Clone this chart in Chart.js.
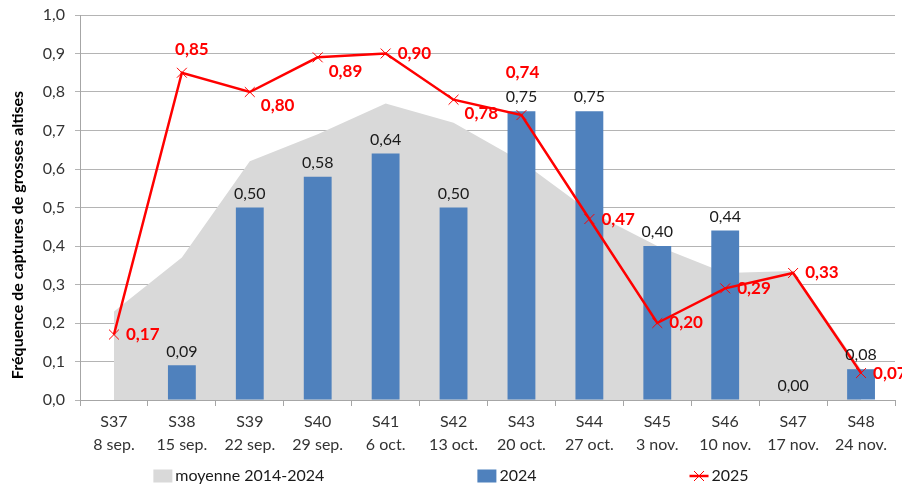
<!DOCTYPE html>
<html><head><meta charset="utf-8">
<script src="https://cdn.jsdelivr.net/npm/chart.js@4.4.1/dist/chart.umd.min.js"></script>
<style>html,body{margin:0;padding:0;background:#fff}#wrap{width:902px;height:489px;position:relative}</style>
</head><body><div id="wrap"><canvas id="c" width="902" height="489"></canvas></div>
<script>
const weeks = ['S37','S38','S39','S40','S41','S42','S43','S44','S45','S46','S47','S48'];
const dates = ['8 sep.','15 sep.','22 sep.','29 sep.','6 oct.','13 oct.','20 oct.','27 oct.','3 nov.','10 nov.','17 nov.','24 nov.'];
const moyenne = [0.23,0.37,0.62,0.69,0.77,0.72,0.62,0.49,0.40,0.33,0.335,0.08];
const values2024 = [null,0.09,0.50,0.58,0.64,0.50,0.75,0.75,0.40,0.44,0.00,0.08];
const values2025 = [0.17,0.85,0.80,0.89,0.90,0.78,0.74,0.47,0.20,0.29,0.33,0.07];
const seriesNames = ['moyenne 2014-2024','2024','2025'];
const yTitle = 'Fréquence de captures de grosses altises';
const labelPlacement2025 = ['right','above','belowRight','belowRight','right','belowRight','aboveHigh','right','right','right','right','right'];

const FONT = 'Lato, "Liberation Sans", sans-serif';
const fmt2 = v => v.toFixed(2).replace('.', ',');
const fmt1 = v => v.toFixed(1).replace('.', ',');

const labelsPlugin = {
  id: 'customLabels',
  afterDatasetsDraw(chart) {
    const c = chart.ctx;
    c.save();
    const barMeta = chart.getDatasetMeta(1);
    c.font = '16px ' + FONT;
    c.fillStyle = '#1a1a1a';
    c.textAlign = 'center';
    c.textBaseline = 'middle';
    barMeta.data.forEach((el, i) => {
      const v = values2024[i];
      if (v == null) return;
      c.fillText(fmt2(v), el.x, el.y - 14);
    });
    const lineMeta = chart.getDatasetMeta(2);
    c.font = 'bold 17px ' + FONT;
    c.fillStyle = '#ff0000';
    lineMeta.data.forEach((el, i) => {
      const v = values2025[i];
      const p = labelPlacement2025[i];
      let x = el.x, y = el.y;
      if (p === 'right') { c.textAlign = 'left'; x += 12; }
      else if (p === 'belowRight') { c.textAlign = 'left'; x += 11; y += 14; }
      else if (p === 'above') { c.textAlign = 'center'; x += 10; y -= 23; }
      else if (p === 'aboveHigh') { c.textAlign = 'center'; x += 1; y -= 43; }
      c.fillText(fmt2(v), x, y);
    });
    c.restore();
  },
  afterDraw(chart) {
    const c = chart.ctx;
    c.save();
    c.translate(18, 235);
    c.rotate(-Math.PI / 2);
    c.font = 'bold 16px ' + FONT;
    c.fillStyle = '#000';
    c.textAlign = 'center';
    c.textBaseline = 'middle';
    c.fillText(yTitle, 0, 0);
    c.restore();

    c.save();
    c.font = '16px ' + FONT;
    c.textBaseline = 'middle';
    c.textAlign = 'left';
    const boxW = 19, boxH = 13, gapBT = 3, gapItems = 153, ly = 476;
    const widths = seriesNames.map(n => boxW + gapBT + c.measureText(n).width);
    const total = widths.reduce((a, b) => a + b, 0) + gapItems * (widths.length - 1);
    let x = (chart.width - total) / 2;
    seriesNames.forEach((n, i) => {
      if (i === 0) { c.fillStyle = '#d9d9d9'; c.fillRect(x, ly - boxH / 2, boxW, boxH); }
      else if (i === 1) { c.fillStyle = '#4f81bd'; c.fillRect(x, ly - boxH / 2, boxW, boxH); }
      else {
        c.strokeStyle = '#ff0000';
        c.lineWidth = 2.5;
        c.beginPath(); c.moveTo(x, ly); c.lineTo(x + boxW, ly); c.stroke();
        c.lineWidth = 1;
        const cx = x + boxW / 2, r = 5;
        c.beginPath();
        c.moveTo(cx - r, ly - r); c.lineTo(cx + r, ly + r);
        c.moveTo(cx - r, ly + r); c.lineTo(cx + r, ly - r);
        c.stroke();
      }
      c.fillStyle = '#1a1a1a';
      c.fillText(n, x + boxW + gapBT, ly);
      x += widths[i] + gapItems;
    });
    c.restore();
  }
};

Chart.defaults.font.family = FONT;
new Chart(document.getElementById('c'), {
  type: 'bar',
  data: {
    labels: weeks.map((w, i) => [w, dates[i]]),
    datasets: [
      { type: 'line', label: seriesNames[0], data: moyenne, fill: 'origin', backgroundColor: '#d9d9d9',
        borderWidth: 0, borderColor: 'rgba(0,0,0,0)', pointRadius: 0, tension: 0, order: 3 },
      { type: 'bar', label: seriesNames[1], data: values2024, backgroundColor: '#4f81bd',
        barPercentage: 0.41, categoryPercentage: 1, order: 2 },
      { type: 'line', label: seriesNames[2], data: values2025, borderColor: '#ff0000', borderWidth: 2.5,
        pointStyle: 'crossRot', pointRadius: 7, pointBorderWidth: 1, pointBorderColor: '#ff0000',
        pointBackgroundColor: '#ff0000', fill: false, tension: 0, order: 1 }
    ]
  },
  options: {
    responsive: false,
    animation: false,
    layout: { autoPadding: false, padding: { top: 15, right: 7, left: 0, bottom: 0 } },
    plugins: { legend: { display: false }, tooltip: { enabled: false } },
    scales: {
      x: {
        grid: { display: true, drawOnChartArea: false, drawTicks: true, tickLength: 6, color: '#a6a6a6', offset: true },
        border: { color: '#a6a6a6' },
        ticks: { color: '#333', font: { size: 16, lineHeight: 1.45 }, padding: 4, maxRotation: 0, autoSkip: false },
        afterFit: s => { s.height = 89; s.paddingLeft = 0; s.paddingRight = 0; }
      },
      y: {
        min: 0, max: 1,
        ticks: { stepSize: 0.1, color: '#333', font: { size: 16 }, padding: 10, callback: v => fmt1(v) },
        grid: { color: '#b4b4b4', tickLength: 5, drawTicks: true },
        border: { color: '#a6a6a6' },
        afterFit: s => { s.width = 80; s.paddingTop = 0; s.paddingBottom = 0; }
      }
    }
  },
  plugins: [labelsPlugin]
});
</script>
</body></html>
